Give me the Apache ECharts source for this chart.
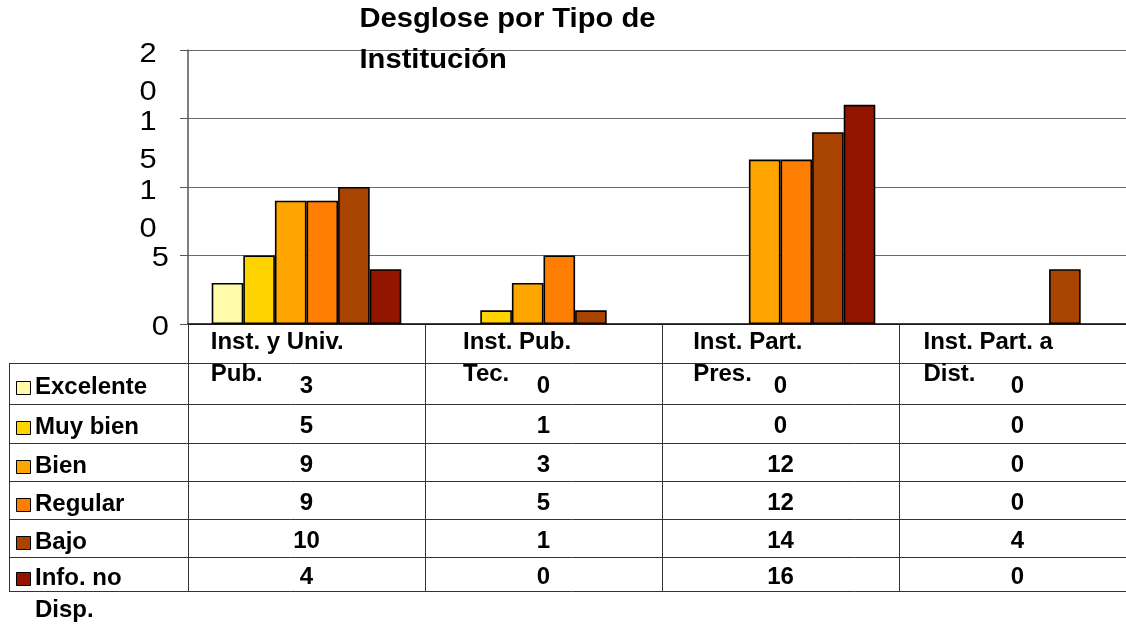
<!DOCTYPE html>
<html>
<head>
<meta charset="utf-8">
<script src="https://cdn.jsdelivr.net/npm/echarts@6/dist/echarts.min.js"></script>
<style>
html, body { margin: 0; padding: 0; background: #fff; overflow: hidden; width: 1126px; height: 624px; }
#c { width: 1136px; height: 624px; }
</style>
</head>
<body>
<div id="c"></div>
<script>
// ---- data ----
const titleText = 'Desglose por Tipo de\nInstitución';
const categories = ['Inst. y Univ. Pub.', 'Inst. Pub. Tec.', 'Inst. Part. Pres.', 'Inst. Part. a Dist.'];
const seriesNames = ['Excelente', 'Muy bien', 'Bien', 'Regular', 'Bajo', 'Info. no Disp.'];
const excelente  = [3, 0, 0, 0];
const muyBien    = [5, 1, 0, 0];
const bien       = [9, 3, 12, 0];
const regular    = [9, 5, 12, 0];
const bajo       = [10, 1, 14, 4];
const infoNoDisp = [4, 0, 16, 0];
const yTicks = [0, 5, 10, 15, 20];

// ---- style ----
const colors = ['#FFFBA8', '#FFD300', '#FFA500', '#FF7D00', '#A84400', '#931500'];
const FONT = '"Liberation Sans", Arial, Helvetica, sans-serif';
const seriesData = [excelente, muyBien, bien, regular, bajo, infoNoDisp];

const chart = echarts.init(document.getElementById('c'), null, { renderer: 'canvas', width: 1136, height: 624 });
chart.setOption({
  animation: false,
  grid: { left: 188, top: 50, right: 0, height: 274, containLabel: false },
  xAxis: {
    type: 'category',
    data: categories,
    axisLine: { lineStyle: { color: '#000', width: 1.5 } },
    axisTick: { show: false },
    axisLabel: { show: false }
  },
  yAxis: {
    type: 'value', min: 0, max: 20, interval: 5,
    axisLine: { show: true, lineStyle: { color: '#555', width: 1.5 } },
    axisTick: { show: true, length: 8, lineStyle: { color: '#555', width: 1 } },
    axisLabel: { show: false },
    splitLine: { lineStyle: { color: '#6b6b6b', width: 1 } }
  },
  series: seriesNames.map((n, i) => ({
    name: n, type: 'bar',
    data: seriesData[i].map(v => v === 0 ? { value: v, itemStyle: { borderWidth: 0 } } : v),
    barGap: '0%', barCategoryGap: '20%',
    itemStyle: { color: colors[i], borderColor: '#000', borderWidth: 1.6 }
  }))
});

// ---- table / labels drawn with graphics positioned from the axes ----
const ctx = document.createElement('canvas').getContext('2d');
function measure(t, font) { ctx.font = font; return ctx.measureText(t).width; }
function wrap(t, font, maxW) {
  const words = t.split(' ');
  const lines = [];
  let cur = '';
  words.forEach(w => {
    const test = cur ? cur + ' ' + w : w;
    if (cur && measure(test, font) > maxW) { lines.push(cur); cur = w; }
    else cur = test;
  });
  if (cur) lines.push(cur);
  return lines;
}

const g = [];
const tFont = 'bold 24px ' + FONT;
function txt(x, y, text, o) {
  return Object.assign({
    type: 'text', x: x, y: y, z: 100, silent: true,
    style: Object.assign({
      text: text, fill: '#000', fontFamily: FONT, fontSize: 24, fontWeight: 'bold',
      align: 'left', verticalAlign: 'middle'
    }, o.style || {})
  }, o.el || {});
}

// title
g.push(txt(359.5, 39.6, titleText, { el: { scaleX: 1.08 }, style: { fontSize: 27, lineHeight: 41 } }));

// y-axis labels (text wraps one char per line, as in the reference)
yTicks.forEach(v => {
  const py = chart.convertToPixel({ yAxisIndex: 0 }, v);
  const s = String(v);
  if (s.length > 1) {
    g.push(txt(148, py - 15, s.split('').join('\n'), {
      el: { scaleX: 1.1 }, style: { fontSize: 28, fontWeight: 'normal', align: 'center', verticalAlign: 'top', lineHeight: 38 }
    }));
  } else {
    g.push(txt(169, py + 3, s, {
      el: { scaleX: 1.1 }, style: { fontSize: 28, fontWeight: 'normal', align: 'right' }
    }));
  }
});

const y0 = chart.convertToPixel({ yAxisIndex: 0 }, 0);
const cx = categories.map((c, i) => chart.convertToPixel({ xAxisIndex: 0 }, i));
const band = cx[1] - cx[0];
const x0 = cx[0] - band / 2;
const tableTop = y0 + 39;
const rowH = [41, 39, 38, 38, 38, 34];
const rowTops = [tableTop];
rowH.forEach((h, i) => rowTops.push(rowTops[i] + h));
const tableBottom = rowTops[rowTops.length - 1];
const legendLeft = 9;
const lineCol = '#333';

function hline(y, xa, xb) {
  y = Math.round(y) + 0.5;
  g.push({ type: 'line', z: 90, silent: true, shape: { x1: xa, y1: y, x2: xb, y2: y }, style: { stroke: lineCol, lineWidth: 1 } });
}
function vline(x, ya, yb) {
  x = Math.round(x) + 0.5;
  g.push({ type: 'line', z: 90, silent: true, shape: { x1: x, y1: ya, x2: x, y2: yb }, style: { stroke: lineCol, lineWidth: 1 } });
}
rowTops.forEach(y => hline(y, legendLeft, 1136));
vline(legendLeft, tableTop, tableBottom);
for (let k = 0; k <= categories.length; k++) vline(x0 + k * band, y0, tableBottom);

// category headers: centred as one line, wrapped, left-aligned
categories.forEach((c, i) => {
  const full = measure(c, tFont);
  const lines = wrap(c, tFont, 150);
  const left = cx[i] - full / 2;
  g.push(txt(left, y0 + 18 - 16, lines.join('\n'), { style: { verticalAlign: 'top', lineHeight: 32 } }));
});

// legend column + values
seriesNames.forEach((n, r) => {
  const cy = (rowTops[r] + rowTops[r + 1]) / 2;
  g.push({ type: 'rect', z: 95, silent: true,
    shape: { x: 16.5, y: Math.round(cy + 4 - 6.5) + 0.5, width: 14, height: 13 },
    style: { fill: colors[r], stroke: '#000', lineWidth: 1 } });
  const lines = wrap(n, tFont, 140);
  g.push(txt(35, cy + 4 - 16, lines.join('\n'), { style: { verticalAlign: 'top', lineHeight: 32 } }));
  seriesData[r].forEach((v, i) => {
    g.push(txt(cx[i], cy + 3, String(v), { style: { align: 'center' } }));
  });
});

chart.setOption({ graphic: { elements: g } });
</script>
</body>
</html>
